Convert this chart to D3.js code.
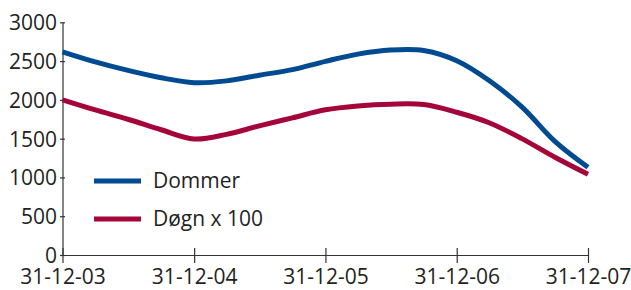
<!DOCTYPE html>
<html>
<head>
<meta charset="utf-8">
<script src="https://cdn.jsdelivr.net/npm/d3@7"></script>
<style>
  html, body { margin: 0; padding: 0; background: #fff; }
  svg { display: block; }
  text { font-family: "Open Sans", "Noto Sans", sans-serif; fill: #231f20; }
</style>
</head>
<body>
<svg id="chart" width="631" height="290"></svg>
<script>
// Quarterly observation dates
const dates = [
  "2003-12-31","2004-03-31","2004-06-30","2004-09-30",
  "2004-12-31","2005-03-31","2005-06-30","2005-09-30",
  "2005-12-31","2006-03-31","2006-06-30","2006-09-30",
  "2006-12-31","2007-03-31","2007-06-30","2007-09-30",
  "2007-12-31"
];
const dommer = [2620, 2490, 2380, 2285, 2222, 2245, 2318, 2390, 2497, 2590, 2643, 2637, 2505, 2250, 1910, 1465, 1130];
const dogn   = [2000, 1870, 1750, 1615, 1495, 1555, 1665, 1768, 1872, 1922, 1945, 1940, 1840, 1705, 1500, 1260, 1040];
const seriesNames = ["Dommer", "Døgn x 100"];
const xTickDates = ["2003-12-31","2004-12-31","2005-12-31","2006-12-31","2007-12-31"];
const yTicks = [0, 500, 1000, 1500, 2000, 2500, 3000];

const colors = ["#004a91", "#a4063a"];

const parse = d3.timeParse("%Y-%m-%d");
const svg = d3.select("#chart");

const x = d3.scaleTime()
  .domain([parse(dates[0]), parse(dates[dates.length - 1])])
  .range([62.5, 588]);
const y = d3.scaleLinear().domain([0, 3000]).range([255, 22.3]);

const FS = 21;

// Y axis
const yAxis = svg.append("g").attr("transform", "translate(62.5,0)")
  .call(d3.axisLeft(y).tickValues(yTicks).tickFormat(d3.format("d"))
    .tickSize(2.5).tickSizeOuter(0).tickPadding(3));
yAxis.select(".domain").attr("stroke", "#333").attr("stroke-width", 1.2);
yAxis.selectAll(".tick line").attr("x1", -2.5).attr("x2", 2.5).attr("stroke", "#333").attr("stroke-width", 1.2);
yAxis.selectAll(".tick text").attr("font-size", FS).attr("fill", "#231f20")
  .style("font-family", '"Open Sans", sans-serif').attr("dy", "0.36em");

// X axis
const xAxis = svg.append("g").attr("transform", "translate(0,255)")
  .call(d3.axisBottom(x).tickValues(xTickDates.map(parse))
    .tickFormat(d3.timeFormat("%d-%m-%y")).tickSize(8).tickSizeOuter(0).tickPadding(6));
xAxis.select(".domain").attr("stroke", "#333").attr("stroke-width", 1.2);
xAxis.selectAll(".tick line").attr("y1", -7).attr("y2", 8).attr("stroke", "#333").attr("stroke-width", 1.2);
xAxis.selectAll(".tick text").attr("font-size", FS).attr("fill", "#231f20")
  .style("font-family", '"Open Sans", sans-serif').attr("dy", "0.71em");

// Lines
const line = d3.line()
  .x(d => x(d.date))
  .y(d => y(d.value))
  .curve(d3.curveCatmullRom.alpha(0.5));

[dommer, dogn].forEach((vals, i) => {
  const data = dates.map((d, j) => ({ date: parse(d), value: vals[j] }));
  svg.append("path")
    .datum(data)
    .attr("fill", "none")
    .attr("stroke", colors[i])
    .attr("stroke-width", 5)
    .attr("d", line);
});

// Legend
const legend = svg.append("g");
seriesNames.forEach((name, i) => {
  const ly = 181 + i * 38;
  legend.append("line")
    .attr("x1", 94).attr("x2", 141).attr("y1", ly).attr("y2", ly)
    .attr("stroke", colors[i]).attr("stroke-width", 5);
  legend.append("text")
    .attr("x", 153).attr("y", ly + 7)
    .attr("font-size", FS)
    .text(name);
});
</script>
</body>
</html>
